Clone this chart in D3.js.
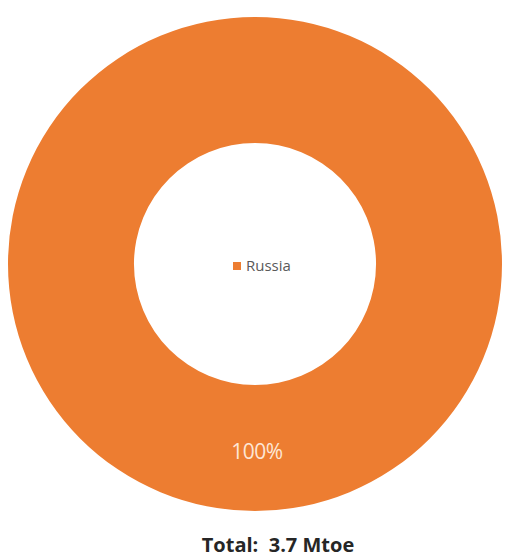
<!DOCTYPE html>
<html>
<head>
<meta charset="utf-8">
<script src="https://cdn.jsdelivr.net/npm/d3@7"></script>
<style>
html,body{margin:0;padding:0;background:#fff;}
svg{display:block;}
</style>
</head>
<body>
<svg id="chart" width="506" height="557"></svg>
<script>
const categories = ["Russia"];
const values = [3.7];
const colors = ["#ED7D31"];
const totalLabel = "Total:  3.7 Mtoe";

const W = 506, H = 557;
const cx = 255, cy = 264, outerR = 247, innerR = 121;

const svg = d3.select("#chart");
const g = svg.append("g").attr("transform", `translate(${cx},${cy})`);

const pie = d3.pie().sort(null).value(d => d.value);
const data = categories.map((c, i) => ({name: c, value: values[i], color: colors[i]}));
const arcs = pie(data);
const arc = d3.arc().innerRadius(innerR).outerRadius(outerR);
const total = d3.sum(values);

g.selectAll("path.slice").data(arcs).enter().append("path")
  .attr("class", "slice")
  .attr("d", arc)
  .attr("fill", d => d.data.color);

g.selectAll("text.pct").data(arcs).enter().append("text")
  .attr("class", "pct")
  .attr("transform", d => { const c = arc.centroid(d); return `translate(${c[0]+2},${c[1]+3})`; })
  .attr("text-anchor", "middle")
  .attr("dominant-baseline", "central")
  .attr("font-family", "'Open Sans', 'Liberation Sans', sans-serif")
  .attr("font-size", 21)
  .attr("letter-spacing", -0.5)
  .attr("fill", "#FDE6D5")
  .text(d => d3.format(".0%")(d.data.value / total));

// legend in the hole
const leg = g.append("g").attr("transform", "translate(-22,0)");
const items = leg.selectAll("g.item").data(data).enter().append("g").attr("class", "item");
items.append("rect").attr("x", 0).attr("y", -2).attr("width", 8).attr("height", 8).attr("fill", d => d.color);
items.append("text")
  .attr("x", 13).attr("y", 7)
  .attr("font-family", "'Open Sans', 'Liberation Sans', sans-serif")
  .attr("font-size", 15)
  .attr("fill", "#595959")
  .text(d => d.name);

svg.append("text")
  .attr("x", 278).attr("y", 552)
  .attr("text-anchor", "middle")
  .attr("font-family", "'Open Sans', 'Liberation Sans', sans-serif")
  .attr("font-weight", "bold")
  .attr("font-size", 20)
  .attr("fill", "#262626")
  .attr("xml:space", "preserve")
  .style("white-space", "pre")
  .text(totalLabel);
</script>
</body>
</html>
